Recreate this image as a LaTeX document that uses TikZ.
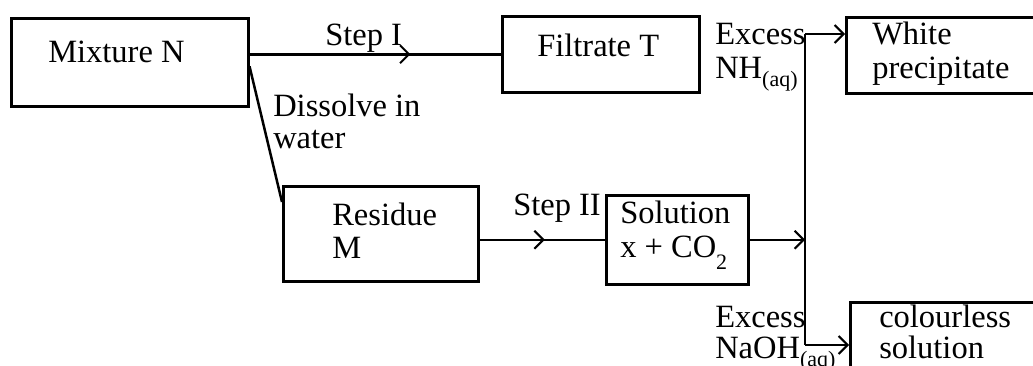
\documentclass[tikz,border=0pt]{standalone}
\usepackage{fontspec}
\setmainfont{Liberation Serif}
\usetikzlibrary{arrows.meta,decorations.markings}
\newcommand{\subx}[2]{\raisebox{-#1pt}{\fontsize{22}{22}\selectfont #2}}
\begin{document}
\begin{tikzpicture}[x=1pt,y=-1pt,line width=2.5pt,
  box/.style={draw,line width=2.5pt,inner sep=0pt,anchor=north west},
  txt/.style={anchor=base west,inner sep=0pt,font=\fontsize{32.5}{36}\selectfont},
  tip/.style={-{Straight Barb[length=9pt,width=18pt,line width=2pt]}},
  midtip/.style={postaction={decorate},decoration={markings,mark=at position #1 with {\arrow{Straight Barb[length=9pt,width=18pt,line width=2pt]}}}}]
\useasboundingbox (0,0) rectangle (1033,365);
\clip (0,0) rectangle (1033,365);
% boxes
\node[box,minimum width=237pt,minimum height=88pt] (mix) at (10,17) {};
\node[box,minimum width=197pt,minimum height=76pt] (filt) at (501,15) {};
\node[box,minimum width=200pt,minimum height=76pt] (white) at (845,16) {};
\node[box,minimum width=195pt,minimum height=95pt] (res) at (282,185) {};
\node[box,minimum width=142pt,minimum height=89pt] (sol) at (605,194) {};
\node[box,minimum width=200pt,minimum height=90pt] (col) at (849,301) {};
% texts
\node[txt] (tmix) at (47,62) {Mixture N};
\node[txt] (tfilt) at (536,56) {Filtrate T};
\node[txt] (tstep1) at (324,45) {Step I};
\node[txt] (tw1) at (871,44) {White};
\node[txt] (tw2) at (871,78) {precipitate};
\node[txt] (tex1) at (714,44) {Excess};
\node[txt] (tnh) at (714,78) {NH\subx{8}{(aq)}};
\node[txt] (tdis1) at (272,116) {Dissolve in};
\node[txt] (tdis2) at (272,148) {water};
\node[txt] (tres1) at (331,225) {Residue};
\node[txt] (tres2) at (331,258) {M};
\node[txt] (tstep2) at (512,215) {Step II};
\node[txt] (tsol1) at (619,223) {Solution};
\node[txt] (tsol2) at (619,257) {x + CO\subx{12}{2}};
\node[txt] (tex2) at (714,327) {Excess};
\node[txt] (tna) at (714,358) {NaOH\subx{8}{(aq)}};
\node[txt] (tc1) at (878,327) {colourless};
\node[txt] (tc2) at (878,358) {solution};
% junction coordinates
\coordinate (j1) at (805,34);
\coordinate (j3) at (805,345);
\coordinate (j2) at (sol.east -| j1);
% connectors
\draw[midtip=0.64] (filt.west -| mix.east) -- (filt.west);
\draw ([yshift=-4pt]mix.east) -- ([yshift=-17pt]res.north west);
\draw[midtip=0.52] (sol.west -| res.east) -- (sol.west);
\draw[tip] (sol.east) -- (j2);
\draw (j1) -- (j3);
\draw[tip] (j1) -- (j1 -| white.west);
\draw[tip] (j3) -- (j3 -| col.west);
\end{tikzpicture}
\end{document}
